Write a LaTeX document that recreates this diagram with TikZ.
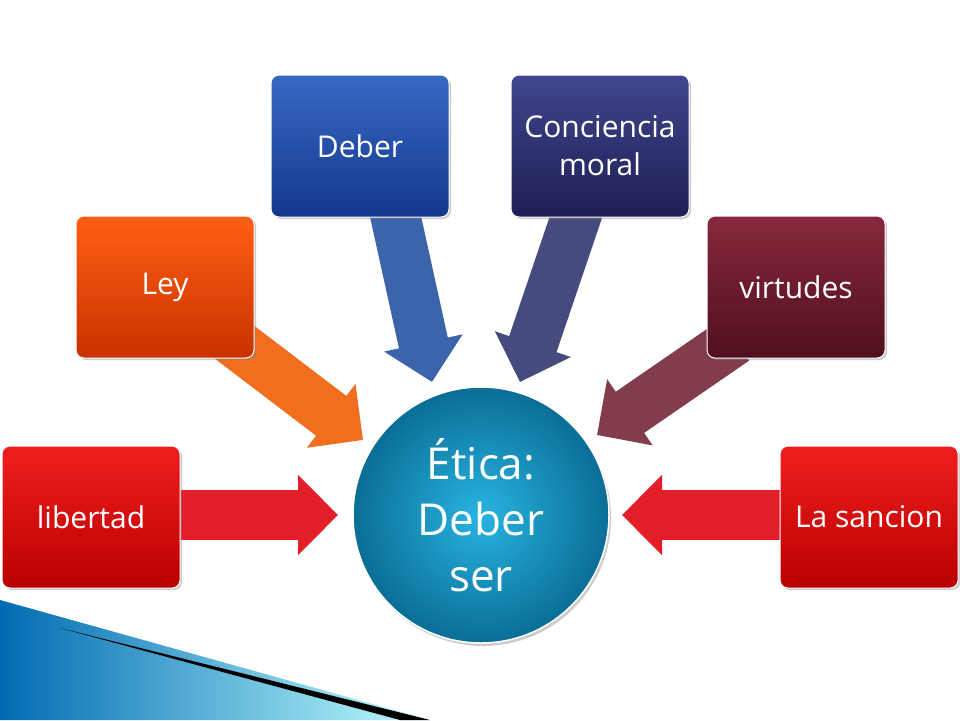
\documentclass[tikz,border=0pt]{standalone}
\usepackage{fontspec}
\setmainfont{Open Sans}
\usetikzlibrary{arrows.meta,shadows}
\begin{document}
\begin{tikzpicture}[x=1pt,y=-1pt,
  box/.style={rounded corners=8pt,minimum width=178pt,minimum height=142pt,text=white,font=\fontsize{30}{38}\selectfont,align=center,draw=white,line width=1pt,inner sep=2pt,drop shadow={shadow xshift=2pt,shadow yshift=-2pt,opacity=0.4}},
  barrow/.style={line width=50pt,-{Triangle[length=40pt,width=78pt]}}]
\useasboundingbox (0,0) rectangle (960,720);
\fill[white] (0,0) rectangle (960,720);
% bottom-left decoration
\shade[left color=cyan!60!blue!70!black,right color=cyan!25] (0,600) -- (0,720) -- (430,720) -- cycle;
\fill[black] (60,628) -- (430,720) -- (400,720) -- cycle;
% arrows
\coordinate (a1s) at (175,515); \coordinate (a1e) at (338,515);
\coordinate (a6s) at (785,515); \coordinate (a6e) at (622,515);
\coordinate (a2s) at (225,335); \coordinate (a2e) at (363,440);
\coordinate (a3s) at (393,205); \coordinate (a3e) at (432,382);
\coordinate (a4s) at (580,205); \coordinate (a4e) at (520,382);
\coordinate (a5s) at (735,340); \coordinate (a5e) at (597,435);
\draw[barrow,color={rgb,255:red,226;green,30;blue,40}] (a1s) -- (a1e);
\draw[barrow,color={rgb,255:red,226;green,30;blue,40}] (a6s) -- (a6e);
\draw[barrow,color={rgb,255:red,240;green,110;blue,30}] (a2s) -- (a2e);
\draw[barrow,color={rgb,255:red,60;green,100;blue,170}] (a3s) -- (a3e);
\draw[barrow,color={rgb,255:red,70;green,75;blue,125}] (a4s) -- (a4e);
\draw[barrow,color={rgb,255:red,130;green,60;blue,75}] (a5s) -- (a5e);
% boxes
\node[box,top color={rgb,255:red,240;green,30;blue,30},bottom color={rgb,255:red,185;green,0;blue,0}] (lib) at (91,517) {libertad};
\node[box,top color={rgb,255:red,255;green,95;blue,20},bottom color={rgb,255:red,200;green,50;blue,0}] (ley) at (165,287) {Ley};
\node[box,top color={rgb,255:red,55;green,105;blue,195},bottom color={rgb,255:red,20;green,55;blue,140}] (deb) at (360,146) {Deber};
\node[box,top color={rgb,255:red,65;green,70;blue,140},bottom color={rgb,255:red,30;green,30;blue,85}] (con) at (600,146) {Conciencia\\moral};
\node[box,top color={rgb,255:red,135;green,40;blue,60},bottom color={rgb,255:red,80;green,15;blue,30}] (vir) at (796,287) {virtudes};
\node[box,top color={rgb,255:red,240;green,30;blue,30},bottom color={rgb,255:red,185;green,0;blue,0}] (san) at (869,517) {La sancion};
% circle
\node[circle,minimum size=256pt,inner sep=0pt,draw=white,line width=1.5pt,inner color={rgb,255:red,40;green,180;blue,225},outer color={rgb,255:red,10;green,110;blue,150},text=white,align=center,font=\fontsize{44}{56}\selectfont,drop shadow={shadow xshift=2pt,shadow yshift=-3pt,opacity=0.4}] (eti) at (481,515) {Ética:\\Deber\\ser};
\end{tikzpicture}
\end{document}
